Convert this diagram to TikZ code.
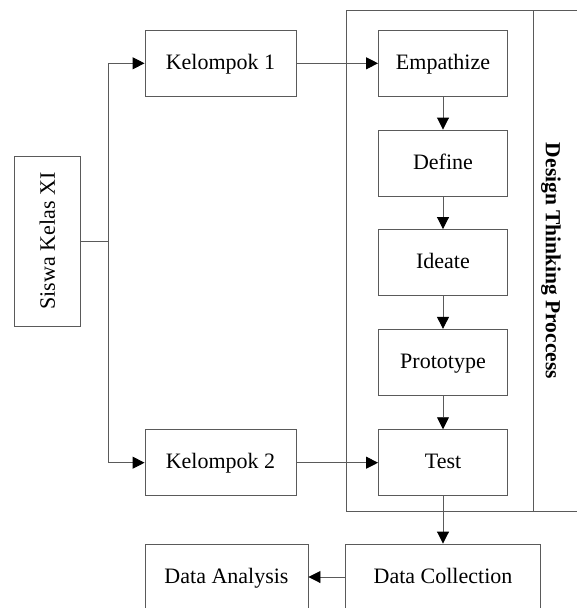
\documentclass[tikz,border=0pt]{standalone}
\usepackage{fontspec}
\setmainfont{Liberation Serif}
\usetikzlibrary{arrows.meta}
\definecolor{linegray}{RGB}{90,90,90}
\tikzset{
  box/.style={draw=linegray, line width=0.9pt, inner sep=0pt, minimum height=66pt, text height=16pt, text depth=4pt, font=\fontsize{22}{26}\selectfont, text=black},
  conn/.style={draw=linegray, line width=0.9pt},
  arr/.style={conn, -{Triangle[length=12pt,width=12pt,fill=black,color=black]}},
}
\begin{document}
\begin{tikzpicture}[x=1pt,y=-1pt]
\useasboundingbox (0,0) rectangle (577,608);
% frame
\node[draw=linegray, line width=0.9pt, inner sep=0pt, minimum width=260pt, minimum height=500.5pt, anchor=north west] (frame) at (345.5,10) {};
\coordinate (divtop) at (533.5,10);
\coordinate (divbot) at (533.5,510.5);
\draw[conn] (divtop) -- (divbot);
\node[rotate=-90, font=\bfseries\fontsize{21.5}{26}\selectfont] (dtp) at (551,261) {Design Thinking Proccess};
% boxes
\node[box, minimum width=66pt, minimum height=170pt] (siswa) at (47.3,241) {};
\node[rotate=90, font=\fontsize{22}{26}\selectfont] (siswatxt) at (siswa.center) {Siswa Kelas XI};
\node[box, minimum width=151pt] (k1) at (220.5,63.3) {Kelompok 1};
\node[box, minimum width=151pt] (k2) at (220.5,462.7) {Kelompok 2};
\node[box, minimum width=129pt] (emp) at (443,63.3) {Empathize};
\node[box, minimum width=129pt] (def) at (443,163) {Define};
\node[box, minimum width=129pt] (ide) at (443,262.5) {Ideate};
\node[box, minimum width=129pt] (pro) at (443,362.3) {Prototype};
\node[box, minimum width=129pt] (tst) at (443,462.7) {Test};
\node[box, minimum width=195pt] (dc) at (443,577) {Data Collection};
\node[box, minimum width=163pt] (da) at (226.5,577) {Data Analysis};
% connectors
\coordinate (br) at (108.5,241);
\draw[conn] (siswa.east) -- (br);
\draw[arr] (br) |- (k1.west);
\draw[arr] (br) |- (k2.west);
\draw[arr] (k1.east) -- (emp.west);
\draw[arr] (k2.east) -- (tst.west);
\draw[arr] (emp.south) -- (def.north);
\draw[arr] (def.south) -- (ide.north);
\draw[arr] (ide.south) -- (pro.north);
\draw[arr] (pro.south) -- (tst.north);
\draw[arr] (tst.south) -- (dc.north);
\draw[arr] (dc.west) -- (da.east);
\end{tikzpicture}
\end{document}
